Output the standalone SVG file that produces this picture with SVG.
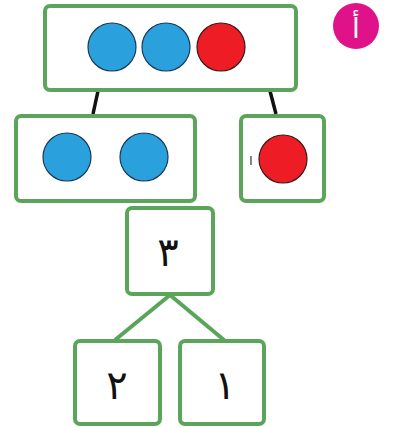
<svg xmlns="http://www.w3.org/2000/svg" width="401" height="428" viewBox="0 0 401 428">
<style>
.box{fill:#fff;stroke:#5aa55a;stroke-width:4}
.blue{fill:#2aa0dc;stroke:#1a3a5a;stroke-width:1.2}
.red{fill:#ee1c24;stroke:#3a1a1a;stroke-width:1.2}
.num{font-family:"DejaVu Sans","Noto Sans",sans-serif;font-size:40px;fill:#111;text-anchor:middle}
.blk{stroke:#111;stroke-width:3.5;fill:none}
.grn{stroke:#5aa55a;stroke-width:4;fill:none}
</style>
<rect width="401" height="428" fill="#fff"/>
<g id="badge">
<circle cx="356" cy="26" r="23" fill="#e0128a"/>
<text x="356" y="38" font-family="DejaVu Sans,sans-serif" font-size="28" fill="#fff" text-anchor="middle">أ</text>
</g>
<g id="connectors">
<line class="blk" x1="98" y1="91" x2="93" y2="114"/>
<line class="blk" x1="270" y1="91" x2="276" y2="114"/>
<line class="grn" x1="170" y1="295" x2="115" y2="340"/>
<line class="grn" x1="170" y1="295" x2="224" y2="340"/>
</g>
<g id="top">
<rect class="box" x="45" y="6" width="251" height="84" rx="5"/>
<circle class="blue" cx="112" cy="47" r="24"/>
<circle class="blue" cx="166" cy="47" r="24"/>
<circle class="red" cx="221" cy="47" r="24"/>
</g>
<g id="left">
<rect class="box" x="16" y="116" width="179" height="85" rx="5"/>
<circle class="blue" cx="67" cy="157" r="24"/>
<circle class="blue" cx="144" cy="157" r="24"/>
</g>
<g id="right">
<rect class="box" x="241" y="116" width="83" height="85" rx="5"/>
<text x="251" y="165" font-family="DejaVu Sans,sans-serif" font-size="12" fill="#222" text-anchor="middle">ا</text>
<circle class="red" cx="283" cy="159" r="24"/>
</g>
<g id="three">
<rect class="box" x="127" y="208" width="86" height="86" rx="5"/>
<text class="num" x="168" y="266">٣</text>
</g>
<g id="two">
<rect class="box" x="75" y="341" width="85" height="83" rx="5"/>
<text class="num" x="117" y="399">٢</text>
</g>
<g id="one">
<rect class="box" x="180" y="341" width="84" height="83" rx="5"/>
<text class="num" x="225" y="399">١</text>
</g>
</svg>
